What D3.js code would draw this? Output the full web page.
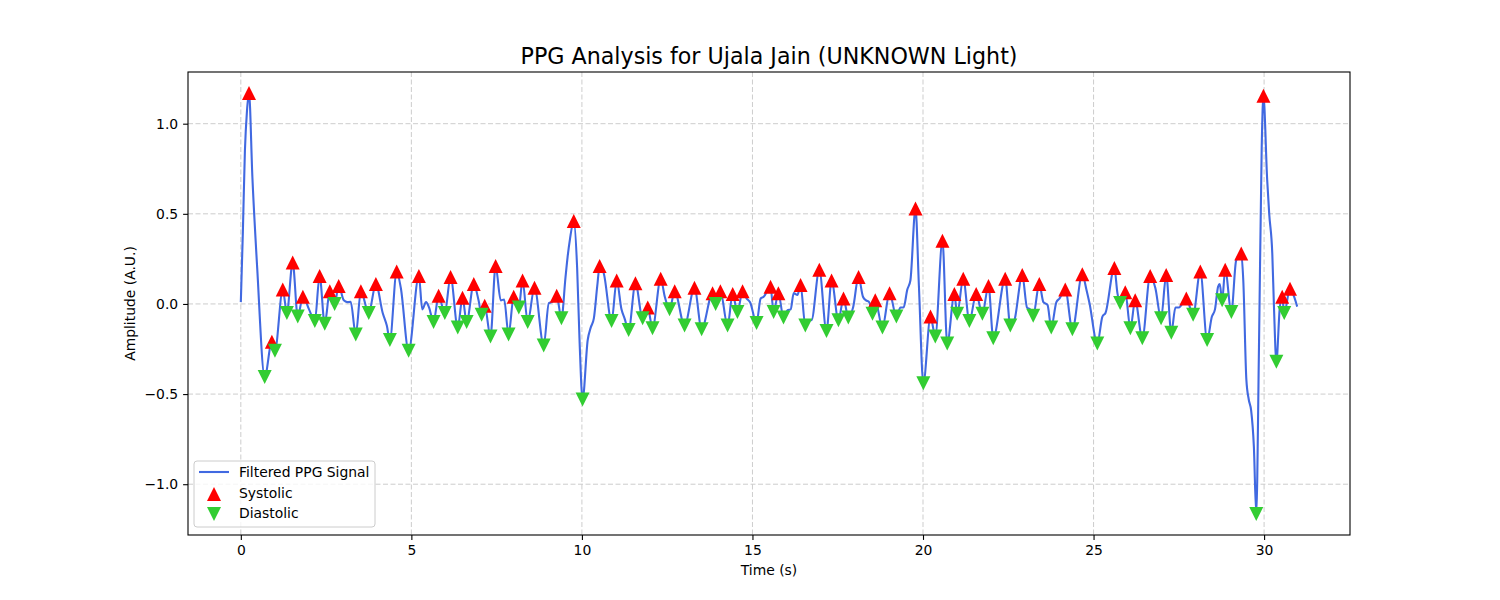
<!DOCTYPE html>
<html>
<head>
<meta charset="utf-8">
<script src="https://cdn.jsdelivr.net/npm/d3@7"></script>
<style>
  body { margin: 0; background: #fff; }
  svg { font-family: "DejaVu Sans", sans-serif; }
</style>
</head>
<body>
<div id="chart"></div>
<script>
// peaks picked by the detector (time in s, amplitude in A.U.)
const systolicTime = [0.24, 0.91, 1.23, 1.52, 1.82, 2.31, 2.61, 2.87, 3.52, 3.96, 4.57, 5.22, 5.80, 6.15, 6.50, 6.83, 7.15, 7.47,
  8.00, 8.26, 8.61, 9.26, 9.76, 10.52, 11.02, 11.57, 11.93, 12.31, 12.72, 13.30, 13.83, 14.06, 14.42, 14.71, 15.53, 15.76,
  16.41, 16.96, 17.32, 17.67, 18.11, 18.60, 19.02, 19.78, 20.22, 20.57, 20.92, 21.18, 21.56, 21.92, 22.41, 22.91, 23.41,
  24.17, 24.67, 25.61, 25.93, 26.22, 26.66, 27.13, 27.72, 28.13, 28.86, 29.33, 29.98, 30.53, 30.76];
const systolicAmp = [1.17, -0.21, 0.08, 0.23, 0.04, 0.155, 0.07, 0.10, 0.07, 0.11, 0.18, 0.155, 0.045, 0.15, 0.035, 0.11, -0.01, 0.21,
  0.04, 0.13, 0.09, 0.045, 0.46, 0.21, 0.13, 0.115, -0.02, 0.14, 0.07, 0.09, 0.06, 0.07, 0.055, 0.07, 0.095, 0.06,
  0.105, 0.19, 0.13, 0.03, 0.15, 0.02, 0.06, 0.53, -0.07, 0.35, 0.055, 0.14, 0.055, 0.10, 0.14, 0.16, 0.11,
  0.08, 0.165, 0.20, 0.065, 0.02, 0.155, 0.16, 0.03, 0.18, 0.19, 0.28, 1.155, 0.04, 0.085];

const diastolicTime = [0.70, 1.00, 1.35, 1.67, 2.17, 2.46, 2.75, 3.37, 3.75, 4.37, 4.92, 5.65, 5.98, 6.36, 6.62, 7.06, 7.32, 7.85,
  8.15, 8.41, 8.88, 9.40, 10.02, 10.87, 11.37, 11.78, 12.07, 12.57, 13.01, 13.51, 13.92, 14.27, 14.56, 15.12, 15.62, 15.91,
  16.55, 17.17, 17.52, 17.81, 18.52, 18.81, 19.22, 20.01, 20.36, 20.71, 21.00, 21.36, 21.74, 22.06, 22.56, 23.23, 23.76,
  24.38, 25.11, 25.78, 26.08, 26.43, 26.98, 27.28, 27.92, 28.33, 28.77, 29.04, 29.77, 30.36, 30.59];
const diastolicAmp = [-0.405, -0.26, -0.05, -0.07, -0.095, -0.11, 0.0, -0.17, -0.05, -0.20, -0.26, -0.10, -0.05, -0.13, -0.10, -0.06, -0.18, -0.17,
  -0.02, -0.10, -0.23, -0.08, -0.53, -0.095, -0.145, -0.08, -0.135, -0.03, -0.12, -0.14, 0.0, -0.12, -0.045, -0.105, -0.045, -0.075,
  -0.12, -0.15, -0.09, -0.075, -0.055, -0.13, -0.07, -0.44, -0.18, -0.22, -0.055, -0.095, -0.055, -0.19, -0.12, -0.065, -0.13,
  -0.14, -0.22, 0.005, -0.135, -0.19, -0.08, -0.16, -0.06, -0.20, 0.02, -0.045, -1.165, -0.32, -0.05];

// remaining samples of the filtered signal between the peaks
const signalTime = [0.00, 0.06, 0.12, 0.18, 0.34, 0.48, 2.00, 3.02, 3.12, 3.22, 4.16, 4.28, 4.69, 5.32, 5.43, 5.52, 6.97,
  7.62, 7.72, 9.03, 9.12, 9.52, 9.58, 9.65, 9.86, 9.93, 10.17, 10.26, 10.35, 10.45, 10.64, 11.16, 11.25, 12.43,
  14.83, 14.93, 15.24, 15.33, 16.03, 16.12, 16.21, 16.32, 16.64, 16.73, 17.95, 18.24, 18.33, 18.42,
  19.34, 19.43, 19.54, 19.63, 19.88, 22.68, 23.05, 23.14, 23.53, 23.65, 23.91, 24.00, 24.79, 24.88,
  25.26, 25.35, 25.70, 26.81, 27.40, 27.50, 28.47, 28.56, 28.65, 28.70, 29.18, 29.39, 29.48, 29.55, 29.62, 29.70,
  29.85, 29.93, 30.09, 30.15, 30.24, 30.29, 30.46, 30.88, 30.97];
const signalAmp = [0.01, 0.40, 0.85, 1.07, 0.70, 0.20, -0.03, 0.02, 0.01, 0.012, -0.05, -0.12, 0.09, -0.03, 0.01, -0.02, 0.02,
  0.02, 0.025, 0.005, 0.01, 0.15, 0.26, 0.36, 0.20, -0.20, -0.20, -0.13, -0.08, 0.10, 0.17, -0.03, -0.08, 0.04,
  0.03, 0.01, 0.03, 0.04, -0.035, -0.03, 0.06, 0.05, -0.09, -0.09, -0.02, 0.04, 0.02, 0.01,
  -0.02, -0.02, 0.08, 0.13, 0.10, -0.09, -0.02, -0.03, 0.01, -0.005, 0.01, 0.03, 0.08, 0.005,
  -0.07, -0.05, 0.06, 0.09, -0.02, -0.02, -0.07, -0.03, 0.095, 0.11, 0.24, 0.13, -0.42, -0.53, -0.59, -0.79,
  -0.24, 0.87, 0.69, 0.50, 0.28, -0.02, -0.02, 0.04, -0.015];

const xTicks = [0, 5, 10, 15, 20, 25, 30];
const yTicks = [-1.0, -0.5, 0.0, 0.5, 1.0];

const width = 1500, height = 600;
const margin = { top: 72, right: 150, bottom: 65, left: 188 };
const innerW = width - margin.left - margin.right;
const innerH = height - margin.top - margin.bottom;

const systolic = systolicTime.map((t, i) => [t, systolicAmp[i]]);
const diastolic = diastolicTime.map((t, i) => [t, diastolicAmp[i]]);
const signal = signalTime.map((t, i) => [t, signalAmp[i]])
  .concat(systolic, diastolic)
  .sort((a, b) => a[0] - b[0]);

const svg = d3.select('#chart').append('svg')
  .attr('width', width)
  .attr('height', height);

const chart = svg.append('g')
  .attr('transform', `translate(${margin.left},${margin.top})`);

// matplotlib style 5% padding round the data
const tExt = d3.extent(signal, d => d[0]);
const aExt = d3.extent(signal, d => d[1]);
const tPad = (tExt[1] - tExt[0]) * 0.05, aPad = (aExt[1] - aExt[0]) * 0.05;

const xScale = d3.scaleLinear().domain([tExt[0] - tPad, tExt[1] + tPad]).range([0, innerW]);
const yScale = d3.scaleLinear().domain([aExt[0] - aPad, aExt[1] + aPad]).range([innerH, 0]);

// grid
chart.append('g').selectAll('line').data(xTicks).join('line')
  .attr('x1', d => xScale(d)).attr('x2', d => xScale(d))
  .attr('y1', 0).attr('y2', innerH)
  .attr('stroke', '#b0b0b0').attr('stroke-opacity', 0.7)
  .attr('stroke-dasharray', '5,2.5').attr('stroke-width', 0.9);
chart.append('g').selectAll('line').data(yTicks).join('line')
  .attr('x1', 0).attr('x2', innerW)
  .attr('y1', d => yScale(d)).attr('y2', d => yScale(d))
  .attr('stroke', '#b0b0b0').attr('stroke-opacity', 0.7)
  .attr('stroke-dasharray', '5,2.5').attr('stroke-width', 0.9);

// axes
const xAxis = d3.axisBottom(xScale).tickValues(xTicks).tickFormat(d3.format('d'))
  .tickSize(4.9).tickSizeOuter(0).tickPadding(4.9);
const yAxis = d3.axisLeft(yScale).tickValues(yTicks).tickFormat(d3.format('.1f'))
  .tickSize(4.9).tickSizeOuter(0).tickPadding(4.9);

const xAxisGroup = chart.append('g')
  .attr('transform', `translate(0,${innerH})`)
  .call(xAxis);
const yAxisGroup = chart.append('g').call(yAxis);

[xAxisGroup, yAxisGroup].forEach(g => {
  g.select('.domain').remove();
  g.selectAll('.tick line').attr('stroke', '#000').attr('stroke-width', 1.1);
  g.selectAll('.tick text').attr('fill', '#000')
    .style('font-size', '13.9px').style('font-family', '"DejaVu Sans", sans-serif');
});

// signal
const line = d3.line()
  .x(d => xScale(d[0]))
  .y(d => yScale(d[1]))
  .curve(d3.curveMonotoneX);

chart.append('path')
  .datum(signal)
  .attr('fill', 'none')
  .attr('stroke', 'royalblue')
  .attr('stroke-width', 2.1)
  .attr('stroke-linejoin', 'round')
  .attr('d', line);

const half = 7;
const triUp = `M0,${-half}L${half},${half}L${-half},${half}Z`;
const triDown = `M0,${half}L${half},${-half}L${-half},${-half}Z`;

chart.selectAll('.systolic')
  .data(systolic)
  .join('path')
  .attr('class', 'systolic')
  .attr('d', triUp)
  .attr('fill', 'red')
  .attr('transform', d => `translate(${xScale(d[0])},${yScale(d[1])})`);

chart.selectAll('.diastolic')
  .data(diastolic)
  .join('path')
  .attr('class', 'diastolic')
  .attr('d', triDown)
  .attr('fill', 'limegreen')
  .attr('transform', d => `translate(${xScale(d[0])},${yScale(d[1])})`);

// frame
chart.append('rect')
  .attr('width', innerW).attr('height', innerH)
  .attr('fill', 'none').attr('stroke', '#000').attr('stroke-width', 1.1);

// labels
svg.append('text')
  .attr('x', margin.left + innerW / 2).attr('y', 64)
  .attr('text-anchor', 'middle')
  .style('font-size', '22.2px')
  .text('PPG Analysis for Ujala Jain (UNKNOWN Light)');

svg.append('text')
  .attr('x', margin.left + innerW / 2).attr('y', 575)
  .attr('text-anchor', 'middle')
  .style('font-size', '13.9px')
  .text('Time (s)');

svg.append('text')
  .attr('transform', `translate(135,${margin.top + innerH / 2}) rotate(-90)`)
  .attr('text-anchor', 'middle')
  .style('font-size', '13.9px')
  .text('Amplitude (A.U.)');

// legend
const legend = chart.append('g')
  .attr('transform', `translate(6,${innerH - 74})`);

legend.append('rect')
  .attr('width', 181).attr('height', 66).attr('rx', 3)
  .attr('fill', '#fff').attr('fill-opacity', 0.8)
  .attr('stroke', '#cccccc').attr('stroke-width', 1);

legend.append('line')
  .attr('x1', 5).attr('x2', 35).attr('y1', 11).attr('y2', 11)
  .attr('stroke', 'royalblue').attr('stroke-width', 2.1);
legend.append('path')
  .attr('d', triUp).attr('fill', 'red')
  .attr('transform', 'translate(20,33)');
legend.append('path')
  .attr('d', triDown).attr('fill', 'limegreen')
  .attr('transform', 'translate(20,53)');

const legendLabels = ['Filtered PPG Signal', 'Systolic', 'Diastolic'];
legend.selectAll('.legend-label')
  .data(legendLabels)
  .join('text')
  .attr('class', 'legend-label')
  .attr('x', 45)
  .attr('y', (d, i) => 16 + i * 20.5)
  .style('font-size', '13.9px')
  .text(d => d);
</script>
</body>
</html>
